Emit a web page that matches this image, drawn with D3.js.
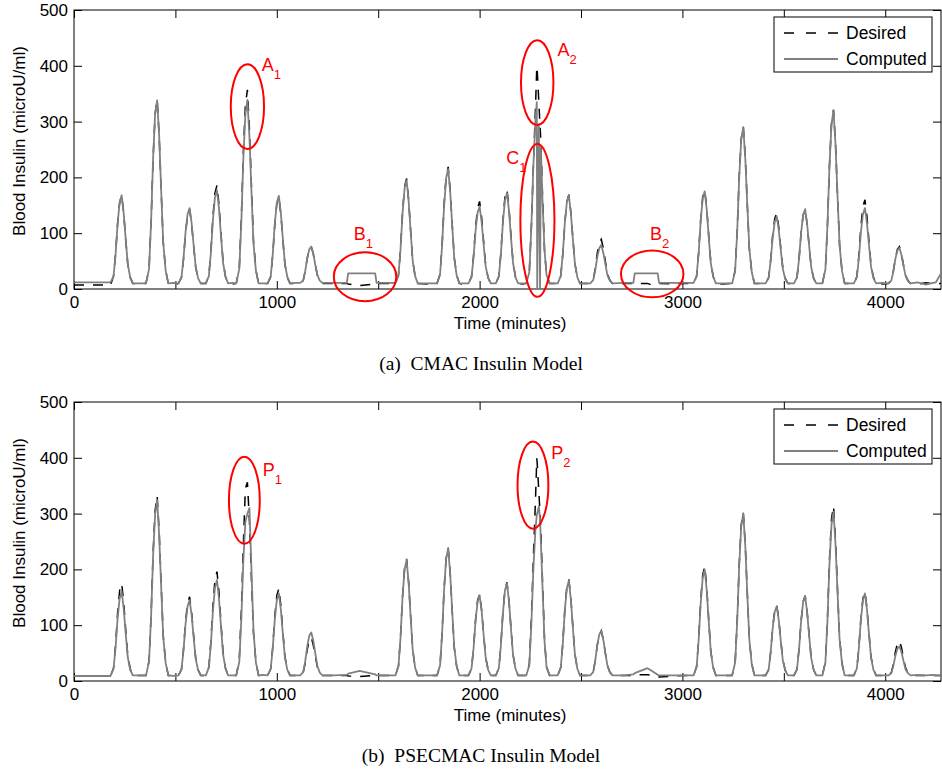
<!DOCTYPE html>
<html>
<head>
<meta charset="utf-8">
<script src="https://cdn.jsdelivr.net/npm/d3@7"></script>
<style>
body { margin: 0; background: #fff; }
</style>
</head>
<body>
<div id="chart"></div>
<script>
// sample times (minutes), shared by every series
const timeMin = [
    0,
    180, 195, 205, 215, 225, 235, 245, 255, 265, 277, 290,
    322,
    355, 370, 380, 390, 400, 410, 420, 430, 440, 452, 465,
    490,
    515, 530, 540, 550, 560, 570, 580, 590, 600, 612, 625,
    650, 665, 675, 685, 695, 705, 715, 725, 735, 747, 760,
    780,
    800, 815, 825, 835, 845, 855, 865, 875, 885, 897, 910,
    932,
    955, 970, 980, 990, 1000, 1010, 1020, 1030, 1040, 1052, 1065,
    1090,
    1115, 1130, 1140, 1150, 1160, 1170, 1180, 1190, 1200, 1212, 1225,
    1280, 1345, 1352, 1408, 1485, 1492, 1540,
    1585, 1600, 1610, 1620, 1630, 1640, 1650, 1660, 1670, 1682, 1695,
    1745,
    1790, 1805, 1815, 1825, 1835, 1845, 1855, 1865, 1875, 1887, 1900,
    1922,
    1945, 1960, 1970, 1980, 1990, 2000, 2010, 2020, 2030, 2042, 2055,
    2080, 2095, 2105, 2115, 2125, 2135, 2145, 2155, 2165, 2177, 2190,
    2210,
    2230, 2245, 2255, 2265, 2275, 2282, 2284, 2292, 2298, 2302, 2310, 2320, 2330, 2345,
    2365,
    2385, 2400, 2410, 2420, 2430, 2440, 2450, 2460, 2470, 2482, 2495,
    2520,
    2545, 2560, 2570, 2580, 2590, 2600, 2610, 2620, 2630, 2642, 2655,
    2710, 2758, 2765, 2828, 2850, 2878, 2885, 2960, 3010,
    3055, 3070, 3080, 3090, 3100, 3110, 3120, 3130, 3140, 3152, 3165,
    3200,
    3245, 3260, 3270, 3280, 3290, 3300, 3310, 3320, 3330, 3342, 3355,
    3385,
    3410, 3425, 3435, 3445, 3455, 3465, 3475, 3485, 3495, 3507, 3520,
    3550, 3565, 3575, 3585, 3595, 3605, 3615, 3625, 3635, 3647, 3660,
    3690, 3705, 3715, 3725, 3735, 3745, 3755, 3765, 3775, 3787, 3800,
    3822,
    3845, 3860, 3870, 3880, 3890, 3900, 3910, 3920, 3930, 3942, 3955,
    3985,
    4015, 4030, 4040, 4050, 4060, 4070, 4080, 4090, 4100, 4112, 4125,
    4160, 4200, 4235, 4250, 4275
];

// (a) CMAC, desired insulin
const desiredCmac = [
    7,
    7, 23, 62, 117, 155, 168, 136, 89, 45, 21, 10,
    9,
    10, 36, 119, 234, 314, 340, 274, 175, 83, 33, 10,
    7,
    10, 21, 54, 100, 132, 143, 116, 77, 39, 19, 10,
    10, 24, 68, 130, 172, 186, 151, 98, 49, 22, 10,
    9,
    10, 38, 125, 246, 329, 357, 288, 184, 86, 34, 10,
    9,
    10, 22, 61, 115, 153, 165, 134, 88, 44, 21, 10,
    10,
    10, 15, 32, 55, 71, 76, 63, 43, 25, 15, 10,
    10, 10, 9, 6, 9, 10, 10,
    10, 25, 72, 138, 183, 198, 160, 104, 51, 23, 10,
    9,
    10, 27, 79, 152, 202, 219, 177, 115, 56, 25, 10,
    8,
    10, 22, 59, 110, 145, 157, 128, 84, 42, 20, 10,
    10, 23, 65, 124, 165, 178, 144, 94, 47, 22, 10,
    9,
    10, 30, 110, 220, 320, 399, 392, 335, 290, 265, 170, 70, 25, 10,
    10,
    10, 23, 62, 118, 156, 169, 137, 90, 45, 21, 10,
    10,
    10, 16, 36, 64, 83, 89, 73, 50, 27, 16, 10,
    10, 10, 10, 10, 7, 9, 10, 9, 10,
    10, 23, 65, 124, 165, 178, 144, 94, 47, 22, 10,
    9,
    10, 33, 103, 202, 269, 292, 236, 151, 72, 30, 10,
    10,
    10, 20, 52, 96, 126, 136, 111, 73, 38, 19, 10,
    10, 21, 54, 100, 132, 143, 116, 77, 39, 19, 10,
    10, 35, 113, 221, 296, 321, 259, 166, 78, 32, 10,
    10,
    10, 22, 60, 112, 148, 160, 130, 85, 43, 21, 10,
    9,
    10, 15, 32, 55, 71, 76, 63, 43, 25, 15, 10,
    9, 11, 10, 10, 10
];

// (a) CMAC, computed insulin
const computedCmac = [
    12,
    12, 23, 62, 117, 155, 168, 136, 89, 45, 21, 10,
    10,
    10, 36, 119, 234, 314, 338, 274, 175, 83, 33, 10,
    11,
    10, 21, 55, 102, 134, 145, 118, 78, 40, 19, 10,
    10, 23, 65, 124, 164, 177, 144, 94, 47, 22, 10,
    11,
    10, 36, 119, 234, 313, 339, 273, 175, 82, 33, 10,
    10,
    10, 23, 62, 117, 154, 167, 136, 89, 45, 21, 10,
    11,
    11, 15, 32, 55, 71, 76, 63, 43, 25, 15, 11,
    11, 11, 28, 28, 28, 11, 11,
    11, 25, 71, 136, 180, 195, 158, 103, 51, 23, 10,
    10,
    10, 26, 78, 149, 199, 215, 174, 113, 55, 24, 10,
    10,
    10, 21, 56, 104, 137, 148, 120, 79, 40, 20, 10,
    10, 23, 63, 120, 159, 172, 140, 91, 46, 21, 10,
    10,
    10, 30, 110, 220, 300, 335, 0, 295, 0, 255, 160, 70, 25, 10,
    10,
    10, 23, 62, 117, 155, 168, 136, 89, 45, 21, 10,
    10,
    10, 16, 33, 57, 73, 79, 65, 45, 25, 15, 10,
    11, 11, 28, 28, 28, 28, 11, 11, 11,
    11, 23, 64, 122, 162, 175, 142, 92, 46, 22, 10,
    10,
    10, 32, 102, 200, 268, 290, 234, 150, 72, 30, 10,
    10,
    10, 20, 50, 92, 120, 130, 106, 70, 36, 18, 10,
    10, 21, 54, 100, 132, 143, 116, 77, 39, 19, 10,
    10, 35, 113, 220, 295, 320, 258, 165, 78, 32, 10,
    10,
    10, 21, 55, 102, 134, 145, 118, 78, 40, 19, 10,
    11,
    10, 15, 31, 54, 69, 74, 61, 42, 24, 14, 10,
    12, 8, 11, 12, 28
];

// (b) PSECMAC, desired insulin
const desiredPsecmac = [
    9,
    9, 23, 64, 122, 162, 175, 142, 92, 46, 22, 10,
    10,
    10, 36, 116, 229, 306, 332, 268, 171, 81, 33, 10,
    10,
    10, 21, 57, 106, 140, 151, 123, 81, 41, 20, 10,
    10, 25, 71, 136, 181, 196, 159, 103, 51, 23, 10,
    10,
    10, 38, 125, 245, 345, 356, 287, 183, 86, 34, 10,
    10,
    10, 22, 61, 116, 153, 166, 135, 88, 44, 21, 10,
    10,
    10, 15, 32, 56, 73, 78, 64, 44, 25, 15, 10,
    10, 10, 9, 8, 10, 10, 10,
    10, 27, 79, 152, 202, 219, 177, 115, 56, 25, 10,
    10,
    10, 28, 86, 166, 221, 239, 193, 125, 60, 26, 10,
    10,
    10, 22, 58, 109, 144, 156, 127, 83, 42, 20, 10,
    10, 23, 65, 124, 164, 177, 143, 93, 47, 22, 10,
    10,
    10, 30, 110, 220, 320, 399, 390, 340, 300, 270, 180, 75, 25, 10,
    10,
    10, 24, 67, 127, 168, 182, 148, 96, 48, 22, 10,
    10,
    10, 16, 36, 64, 83, 90, 74, 50, 28, 16, 10,
    10, 10, 11, 11, 10, 7, 7, 9, 10,
    10, 26, 75, 143, 190, 206, 167, 108, 53, 24, 10,
    10,
    10, 33, 107, 209, 280, 303, 244, 157, 74, 31, 10,
    10,
    10, 20, 52, 96, 126, 136, 111, 73, 38, 19, 10,
    10, 21, 57, 107, 142, 153, 124, 82, 41, 20, 10,
    10, 34, 110, 217, 290, 314, 253, 162, 77, 31, 10,
    10,
    10, 22, 60, 112, 148, 160, 130, 85, 43, 21, 10,
    10,
    10, 15, 30, 52, 67, 72, 60, 41, 24, 14, 10,
    10, 10, 10, 10, 10
];

// (b) PSECMAC, computed insulin
const computedPsecmac = [
    9,
    9, 22, 60, 112, 148, 160, 130, 85, 43, 20, 10,
    10,
    10, 35, 114, 224, 299, 324, 261, 167, 79, 32, 10,
    9,
    10, 21, 55, 102, 134, 145, 118, 78, 40, 19, 10,
    10, 24, 66, 126, 167, 181, 147, 96, 48, 22, 10,
    10,
    10, 34, 110, 216, 285, 300, 310, 200, 90, 33, 10,
    11,
    10, 22, 59, 110, 145, 157, 128, 84, 42, 20, 10,
    10,
    10, 16, 35, 62, 81, 87, 72, 49, 27, 15, 10,
    10, 11, 13, 18, 12, 10, 10,
    10, 27, 78, 151, 200, 217, 176, 114, 56, 24, 10,
    10,
    10, 28, 85, 164, 219, 237, 192, 124, 60, 26, 10,
    10,
    10, 22, 58, 108, 142, 154, 125, 82, 42, 20, 10,
    10, 23, 64, 122, 162, 175, 142, 92, 46, 22, 10,
    10,
    10, 28, 100, 200, 270, 298, 300, 313, 290, 250, 170, 72, 25, 10,
    10,
    10, 24, 66, 126, 166, 180, 146, 95, 47, 22, 10,
    10,
    10, 16, 36, 64, 83, 90, 74, 50, 28, 16, 10,
    10, 12, 14, 23, 18, 11, 10, 10, 10,
    10, 25, 73, 139, 185, 200, 162, 105, 52, 23, 10,
    10,
    10, 33, 106, 207, 277, 300, 242, 155, 74, 30, 10,
    10,
    10, 20, 51, 94, 124, 134, 109, 72, 37, 19, 10,
    10, 21, 57, 106, 141, 152, 123, 81, 41, 20, 10,
    10, 33, 107, 209, 280, 303, 244, 157, 74, 31, 10,
    10,
    10, 22, 59, 110, 145, 157, 128, 84, 42, 20, 10,
    10,
    10, 14, 27, 45, 58, 62, 52, 36, 21, 14, 10,
    11, 10, 11, 10, 10
];

const xTicks = [0, 500, 1000, 1500, 2000, 2500, 3000, 3500, 4000];
const xLabels = [0, 1000, 2000, 3000, 4000];
const yTicks = [0, 100, 200, 300, 400, 500];
const seriesNames = ["Desired", "Computed"];

// red ellipses (centre and half sizes in data units) and their labels
const cmacNotes = [
    {name: "A", sub: "1", t: 855, v: 327, rt: 82, rv: 76, labelT: 926, labelV: 390},
    {name: "A", sub: "2", t: 2284, v: 370, rt: 80, rv: 76, labelT: 2384, labelV: 417},
    {name: "C", sub: "1", t: 2285, v: 123, rt: 84, rv: 137, labelT: 2131, labelV: 224},
    {name: "B", sub: "1", t: 1435, v: 22, rt: 154, rv: 44, labelT: 1379, labelV: 88},
    {name: "B", sub: "2", t: 2851, v: 27, rt: 154, rv: 42, labelT: 2840, labelV: 87}
];
const psecmacNotes = [
    {name: "P", sub: "1", t: 840, v: 324, rt: 76, rv: 78, labelT: 931, labelV: 367},
    {name: "P", sub: "2", t: 2263, v: 351, rt: 76, rv: 78, labelT: 2353, labelV: 398}
];

let width = 942,
    height = 773,
    plotLeft = 74,
    plotRight = 941,
    plotHeight = 279,
    xMax = 4275,
    sansFont = "Arial, 'Liberation Sans', Helvetica, sans-serif",
    serifFont = "'Times New Roman', 'Liberation Serif', Times, serif",
    axisFontSize = 17,
    grey = "#808080";

let svg = d3.select("#chart")
    .append("svg")
    .attr("width", width)
    .attr("height", height);

function drawPanel(top, desired, computed, caption, notes) {
    let x = d3.scaleLinear()
        .domain([0, xMax])
        .range([plotLeft, plotRight]);

    let y = d3.scaleLinear()
        .domain([0, 500])
        .range([top + plotHeight, top]);

    let g = svg.append("g");

    // box round the plot
    g.append("rect")
        .attr("x", plotLeft)
        .attr("y", top)
        .attr("width", plotRight - plotLeft)
        .attr("height", plotHeight)
        .attr("fill", "none")
        .attr("stroke", "#000")
        .attr("stroke-width", 1);

    // axes, ticks pointing inwards on all four sides
    g.append("g")
        .attr("transform", "translate(0," + y(0) + ")")
        .call(d3.axisBottom(x)
            .tickValues(xTicks)
            .tickSize(-8)
            .tickPadding(7)
            .tickFormat(function (d) {
                return xLabels.includes(d) ? d : "";
            }));

    g.append("g")
        .attr("transform", "translate(0," + y(500) + ")")
        .call(d3.axisTop(x).tickValues(xTicks).tickSize(-8).tickFormat(""));

    g.append("g")
        .attr("transform", "translate(" + plotLeft + ",0)")
        .call(d3.axisLeft(y).tickValues(yTicks).tickSize(-8).tickPadding(6));

    g.append("g")
        .attr("transform", "translate(" + plotRight + ",0)")
        .call(d3.axisRight(y).tickValues(yTicks).tickSize(-8).tickFormat(""));

    g.selectAll(".domain").remove();
    g.selectAll(".tick line").attr("stroke", "#000");
    g.selectAll(".tick text")
        .attr("fill", "#000")
        .style("font-family", sansFont)
        .style("font-size", axisFontSize + "px");

    // axis titles
    g.append("text")
        .attr("x", 510)
        .attr("y", top + 319)
        .attr("text-anchor", "middle")
        .style("font-family", sansFont)
        .style("font-size", axisFontSize + "px")
        .text("Time (minutes)");

    g.append("text")
        .attr("transform", "translate(25," + (top + 131) + ") rotate(-90)")
        .attr("text-anchor", "middle")
        .style("font-family", sansFont)
        .style("font-size", axisFontSize + "px")
        .text("Blood Insulin (microU/ml)");

    // series
    let line = d3.line()
        .x(function (d, i) { return x(timeMin[i]); })
        .y(function (d) { return y(d); });

    g.append("path")
        .datum(desired)
        .attr("d", line)
        .attr("fill", "none")
        .attr("stroke", "#000")
        .attr("stroke-width", 1.5)
        .attr("stroke-dasharray", "10,9");

    g.append("path")
        .datum(computed)
        .attr("d", line)
        .attr("fill", "none")
        .attr("stroke", grey)
        .attr("stroke-width", 1.8)
        .attr("stroke-linejoin", "round");

    // red annotations
    let note = g.selectAll(".note")
        .data(notes)
        .enter().append("g")
        .attr("class", "note");

    note.append("ellipse")
        .attr("cx", function (d) { return x(d.t); })
        .attr("cy", function (d) { return y(d.v); })
        .attr("rx", function (d) { return x(d.rt) - x(0); })
        .attr("ry", function (d) { return y(0) - y(d.rv); })
        .attr("fill", "none")
        .attr("stroke", "#ff0000")
        .attr("stroke-width", 2);

    let label = note.append("text")
        .attr("x", function (d) { return x(d.labelT); })
        .attr("y", function (d) { return y(d.labelV); })
        .attr("fill", "#ff0000")
        .style("font-family", sansFont)
        .style("font-size", "18px");

    label.append("tspan")
        .text(function (d) { return d.name; });

    label.append("tspan")
        .attr("dy", 8)
        .style("font-size", "13px")
        .text(function (d) { return d.sub; });

    // legend
    let legend = g.append("g")
        .attr("transform", "translate(774," + (top + 7) + ")");

    legend.append("rect")
        .attr("width", 158)
        .attr("height", 55)
        .attr("fill", "#fff")
        .attr("stroke", "#000")
        .attr("stroke-width", 1);

    let entry = legend.selectAll(".entry")
        .data(seriesNames)
        .enter().append("g")
        .attr("class", "entry")
        .attr("transform", function (d, i) { return "translate(0," + (16 + i * 26) + ")"; });

    entry.append("line")
        .attr("x1", 10)
        .attr("x2", 64)
        .attr("stroke", function (d, i) { return i === 0 ? "#000" : grey; })
        .attr("stroke-width", function (d, i) { return i === 0 ? 1.5 : 1.8; })
        .attr("stroke-dasharray", function (d, i) { return i === 0 ? "10,12" : null; });

    entry.append("text")
        .attr("x", 72)
        .attr("dy", "0.36em")
        .style("font-family", sansFont)
        .style("font-size", "17.5px")
        .text(function (d) { return d; });

    // caption under the panel
    svg.append("text")
        .attr("x", 481)
        .attr("y", top + 360)
        .attr("text-anchor", "middle")
        .attr("xml:space", "preserve")
        .style("font-family", serifFont)
        .style("font-size", "19.5px")
        .text(caption);
}

drawPanel(10, desiredCmac, computedCmac, "(a)  CMAC Insulin Model", cmacNotes);
drawPanel(402, desiredPsecmac, computedPsecmac, "(b)  PSECMAC Insulin Model", psecmacNotes);
</script>
</body>
</html>
